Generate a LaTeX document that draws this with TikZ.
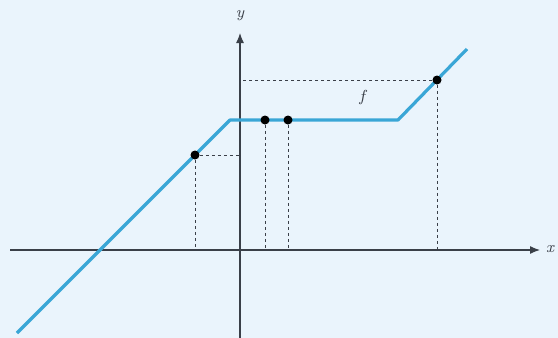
\documentclass[tikz,border=0pt]{standalone}
\usetikzlibrary{arrows.meta}
\definecolor{bgblue}{HTML}{EAF4FC}
\definecolor{curveblue}{HTML}{3AA6D6}
\definecolor{axisgray}{HTML}{3A3F48}
\tikzset{
  axis/.style={axisgray,line width=0.6pt,-{Latex[length=5pt,width=4pt]}},
  graph/.style={curveblue,line width=1.6pt,line join=round},
  helper/.style={axisgray,dash pattern=on 1.5pt off 1.5pt,line width=0.4pt},
  dot/.style={circle,fill=black,inner sep=0pt,minimum size=4.5pt}
}
\begin{document}
\begin{tikzpicture}[x=0.5pt,y=-0.5pt]
  \fill[bgblue](0,0) rectangle (558,338);
  \useasboundingbox (0,0) rectangle (558,338);
  %axes
  \coordinate (xs) at (10,250);
  \coordinate (xe) at (540,250);
  \coordinate (ys) at (240,338);
  \coordinate (ye) at (240,33);
  \draw[axis](xs)--(xe);
  \draw[axis](ys)--(ye);
  \node[axisgray,font=\footnotesize\itshape] (xlab) at (550,249) {x};
  \node[axisgray,font=\footnotesize\itshape] (ylab) at (240,16) {y};
  %graph
  \coordinate (g0) at (17,333);
  \coordinate (g1) at (230,120);
  \coordinate (g2) at (398,120);
  \coordinate (g3) at (467,49);
  \draw[graph](g0)--(g1)--(g2)--(g3);
  %points
  \node[dot] (pa) at (195,155) {};
  \node[dot] (pb) at (265,120) {};
  \node[dot] (pc) at (288,120) {};
  \node[dot] (pd) at (437,80) {};
  \coordinate (pax) at (195,250);
  \coordinate (pay) at (240,155);
  \coordinate (pbx) at (265,250);
  \coordinate (pcx) at (288,250);
  \coordinate (pdx) at (437,250);
  \coordinate (pdy) at (240,80);
  %tratteggi
  \draw[helper](pa)--(pax);
  \draw[helper](pa)--(pay);
  \draw[helper](pb)--(pbx);
  \draw[helper](pc)--(pcx);
  \draw[helper](pd)--(pdx);
  \draw[helper](pd)--(pdy);
  %label
  \node[axisgray,font=\footnotesize] (flab) at (363,97) {$f$};
\end{tikzpicture}
\end{document}
